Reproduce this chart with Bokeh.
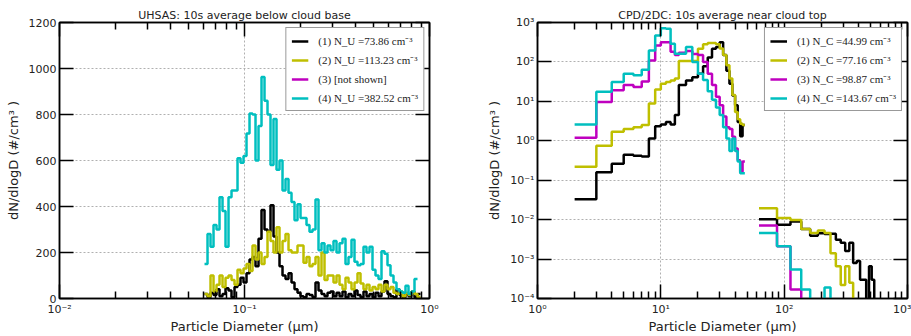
import numpy as np
from bokeh.plotting import figure
from bokeh.models import (FixedTicker, SingleIntervalTicker, CustomJSTickFormatter, LogAxis,
                          LinearAxis, Legend, LegendItem, Range1d)
from bokeh.layouts import row
from bokeh.embed import file_html
from bokeh.resources import INLINE

# ---------------- data: UHSAS (left panel) ----------------
uhsas_lo, uhsas_hi, uhsas_nbins = 0.0608, 0.894, 72
uhsas_edges = np.geomspace(uhsas_lo, uhsas_hi, uhsas_nbins + 1)

uhsas_1 = [20, 5, 25, 15, 40, 10, 20, 45, 35, 5, 50, 60, 90, 70, 110, 170, 180, 140, 260, 385,
           300, 290, 405, 270, 200, 140, 100, 85, 110, 70, 40, 25, 10, 5, 20, 15, 5, 70, 35, 20,
           10, 25, 30, 10, 25, 10, 30, 5, 20, 10, 35, 15, 5, 30, 10, 20, 5, 25, 10, 30,
           75, 20, 10, 5, 40, 15, 5, 20, 10, 30, 5, 20]
uhsas_2 = [20, 10, 100, 30, 60, 100, 50, 90, 100, 80, 60, 125, 110, 130, 150, 120, 230, 170, 200, 150,
           180, 290, 250, 200, 310, 200, 250, 280, 210, 200, 200, 230, 230, 155, 180, 140, 150, 180, 100, 200,
           80, 100, 100, 70, 100, 60, 40, 90, 70, 40, 70, 110, 65, 40, 60, 35, 50, 40, 60, 30,
           60, 40, 50, 25, 20, 30, 10, 25, 15, 30, 20, 5]
uhsas_4 = [150, 280, 225, 320, 300, 440, 380, 225, 440, 470, 470, 610, 590, 620, 717, 804, 800, 600, 750, 963,
           860, 800, 580, 780, 560, 600, 470, 520, 460, 420, 340, 410, 350, 350, 320, 290, 300, 430, 210, 240,
           200, 230, 210, 250, 200, 240, 260, 150, 180, 255, 160, 145, 150, 225, 200, 225, 125, 100, 85, 205,
           195, 145, 100, 70, 40, 30, 25, 55, 20, 30, 85]

uhsas_labels = ["(1) N_U =73.86 cm\u207b\u00b3", "(2) N_U =113.23 cm\u207b\u00b3",
                "(3) [not shown]", "(4) N_U =382.52 cm\u207b\u00b3"]

# ---------------- data: CDP / 2DC (right panel) ----------------
cdp_edges = [2, 3, 4, 5, 6, 7, 8, 9, 10, 11, 12, 13, 14, 16, 18, 20, 22, 24, 26, 28, 30,
             32, 34, 36, 38, 40, 42, 44, 46, 48]
cdp_1 = [0.033, 0.16, 0.26, 0.44, 0.42, 0.40, 1.15, 2.35, 2.6, 3.0, 2.6, 4.5, 26, 34, 41, 50, 78, 130,
         215, 240, 317, 150, 60, 28, 14, 8, 3, 1.3, 2.5]
cdp_2 = [0.22, 0.75, 1.7, 2.0, 2.2, 2.5, 8.8, 20, 28, 31, 34, 38, 105, 105, 105, 215, 280, 300,
         300, 280, 220, 150, 82, 38, 14.5, 5.4, 3.5, 2.7, 2.5]
cdp_3 = [1.2, 9.7, 19, 26, 23, 32, 108, 260, 316, 316, 180, 150, 170, 190, 160, 150, 100, 50,
         26, 13, 8, 4.1, 2.2, 2.0, 1.26, 0.64, 0.32, 0.165, 0.3]
cdp_4 = [2.6, 17.5, 31, 50, 46, 63, 196, 470, 720, 690, 290, 162, 162, 240, 100, 50, 35, 18,
         11, 7, 4.5, 2.2, 1.15, 0.55, 1.15, 0.55, 0.3, 0.15, 0.15]

twodc_edges = [62.5, 87.5, 112.5, 137.5, 162.5, 187.5, 212.5, 237.5, 262.5, 287.5, 312.5,
               337.5, 362.5, 387.5, 412.5, 437.5, 462.5, 487.5, 512.5, 537.5, 562.5]
twodc_1 = [0.0103, 0.0074, 0.009, 0.0058, 0.0039, 0.0045, 0.0043, 0.0044, 0.0031, 0.0026,
           0.0016, 0.0026, 0.0008, 0.0009, 0.0003, 0.0003, 1e-7, 0.00066, 0.0003, 1e-7]
twodc_2 = [0.0195, 0.011, 0.0098, 0.0058, 0.0046, 0.0053, 0.0046, 0.0014, 0.00066, 0.00022,
           0.00066, 0.00025, 1e-7]
twodc_3 = [0.0071, 0.0021, 0.00017, 1e-7]
twodc_4 = [0.0046, 0.0021, 0.00054, 0.00017, 1e-7, 1e-7, 0.00019, 1e-7]

cdp_labels = ["(1) N_C =44.99 cm\u207b\u00b3", "(2) N_C =77.16 cm\u207b\u00b3",
              "(3) N_C =98.87 cm\u207b\u00b3", "(4) N_C =143.67 cm\u207b\u00b3"]

colors = ["#000000", "#bfbf00", "#bf00bf", "#00bfbf"]

FONT = "DejaVu Sans"
H = 336
FRAME_TOP = 22
FRAME_BOTTOM = 37

sup_js = """
const sup = {"-":"\\u207b","0":"\\u2070","1":"\\u00b9","2":"\\u00b2","3":"\\u00b3","4":"\\u2074",
             "5":"\\u2075","6":"\\u2076","7":"\\u2077","8":"\\u2078","9":"\\u2079"};
const e = Math.round(Math.log10(tick));
return "10" + String(e).split("").map(c => sup[c]).join("");
"""


def step_xy(edges, vals):
    xs, ys = [], []
    for i, v in enumerate(vals):
        xs.extend([edges[i], edges[i + 1]])
        ys.extend([v, v])
    return xs, ys


def style_axis(ax, labels=True):
    ax.axis_line_width = 1.5
    ax.axis_line_color = "black"
    ax.major_tick_in = 14
    ax.major_tick_out = 0
    ax.minor_tick_in = 7
    ax.minor_tick_out = 0
    ax.major_tick_line_width = 1.5
    ax.minor_tick_line_width = 1.5
    ax.major_tick_line_color = "black"
    ax.minor_tick_line_color = "black"
    ax.major_label_text_font = FONT
    ax.major_label_text_font_size = "11px"
    ax.major_label_text_color = "#222222"
    ax.axis_label_text_font = FONT
    ax.axis_label_text_font_size = "13px"
    ax.axis_label_text_font_style = "normal"
    ax.axis_label_text_color = "#222222"
    if not labels:
        ax.major_label_text_font_size = "0px"
        ax.major_label_standoff = 0
        ax.formatter = CustomJSTickFormatter(code="return ''")


def make_fig(width, left, right, xr, yr, ylog, title):
    p = figure(width=width, height=H, x_axis_type="log",
               y_axis_type="log" if ylog else "linear",
               x_range=xr, y_range=yr, output_backend="svg", toolbar_location=None,
               min_border_left=left, min_border_right=right,
               min_border_top=FRAME_TOP, min_border_bottom=FRAME_BOTTOM,
               background_fill_color="white", border_fill_color="white")
    p.title.text = title
    p.title.align = "center"
    p.title.text_font = FONT
    p.title.text_font_size = "11px"
    p.title.text_font_style = "normal"
    p.title.text_color = "#222222"
    p.title.standoff = 1
    p.outline_line_color = "black"
    p.outline_line_width = 1.5
    p.grid.grid_line_color = "#b0b0b0"
    p.grid.grid_line_dash = "2 2"
    p.grid.grid_line_width = 1
    return p


# ---------------- left panel ----------------
x_major_l = [0.01, 0.1, 1.0]
x_minor_l = [m * d for d in (0.01, 0.1) for m in range(2, 10)]
p1 = make_fig(469, 59, 40, Range1d(0.01, 1.0), Range1d(0, 1200), False,
              "UHSAS: 10s average below cloud base")
xt1 = FixedTicker(ticks=x_major_l, minor_ticks=x_minor_l)
yt1 = SingleIntervalTicker(interval=200, num_minor_ticks=0)
p1.xaxis.ticker = xt1
p1.xaxis.formatter = CustomJSTickFormatter(code=sup_js)
p1.yaxis.ticker = yt1
for ax in p1.xaxis + p1.yaxis:
    style_axis(ax)
p1.xaxis.major_label_standoff = 4
p1.xaxis.axis_label_standoff = 0
p1.yaxis.major_label_standoff = 3
p1.yaxis.axis_label_standoff = 5
p1.xaxis.axis_label = "Particle Diameter (\u03bcm)"
p1.yaxis.axis_label = "dN/dlogD (#/cm\u00b3 )"
p1.xgrid.ticker = FixedTicker(ticks=x_major_l)
p1.ygrid.ticker = yt1
top1 = LogAxis(ticker=xt1)
style_axis(top1, labels=False)
p1.add_layout(top1, "above")
right1 = LinearAxis(ticker=yt1)
style_axis(right1, labels=False)
p1.add_layout(right1, "right")

r_l = []
for vals, c in zip([uhsas_1, uhsas_2, None, uhsas_4], colors):
    if vals is None:
        # series (3) is not shown: a swatch-only renderer kept outside the visible range
        r = p1.line(x=[0.001, 0.002], y=[-500, -500], color=c, line_width=2.5)
    else:
        xs, ys = step_xy(uhsas_edges, vals)
        r = p1.line(xs, ys, color=c, line_width=2.5)
    r_l.append(r)

leg1 = Legend(items=[LegendItem(label=lab, renderers=[r]) for lab, r in zip(uhsas_labels, r_l)],
              location="top_right")
p1.add_layout(leg1)

# ---------------- right panel ----------------
x_major_r = [1, 10, 100, 1000]
x_minor_r = [m * d for d in (1, 10, 100) for m in range(2, 10)]
y_major_r = [1e-4, 1e-3, 1e-2, 1e-1, 1, 10, 100, 1000]
p2 = make_fig(442, 68, 4, Range1d(1, 1000), Range1d(1e-4, 1e3), True,
              "CPD/2DC: 10s average near cloud top")
xt2 = FixedTicker(ticks=x_major_r, minor_ticks=x_minor_r)
yt2 = FixedTicker(ticks=y_major_r, minor_ticks=[])
p2.xaxis.ticker = xt2
p2.yaxis.ticker = yt2
p2.xaxis.formatter = CustomJSTickFormatter(code=sup_js)
p2.yaxis.formatter = CustomJSTickFormatter(code=sup_js)
for ax in p2.xaxis + p2.yaxis:
    style_axis(ax)
p2.xaxis.major_label_standoff = 4
p2.xaxis.axis_label_standoff = 0
p2.yaxis.major_label_standoff = 3
p2.yaxis.axis_label_standoff = 5
p2.xaxis.axis_label = "Particle Diameter (\u03bcm)"
p2.yaxis.axis_label = "dN/dlogD (#/cm\u00b3 )"
p2.xgrid.ticker = FixedTicker(ticks=x_major_r)
p2.ygrid.ticker = FixedTicker(ticks=y_major_r)
top2 = LogAxis(ticker=xt2)
style_axis(top2, labels=False)
p2.add_layout(top2, "above")
right2 = LogAxis(ticker=yt2)
style_axis(right2, labels=False)
p2.add_layout(right2, "right")

r_r = []
for cv, tv, c in zip([cdp_1, cdp_2, cdp_3, cdp_4], [twodc_1, twodc_2, twodc_3, twodc_4], colors):
    xs, ys = step_xy(cdp_edges, cv)
    r = p2.line(xs, ys, color=c, line_width=2.5)
    xs2, ys2 = step_xy(twodc_edges, tv)
    p2.line(xs2, ys2, color=c, line_width=2.5)
    r_r.append(r)

leg2 = Legend(items=[LegendItem(label=lab, renderers=[r]) for lab, r in zip(cdp_labels, r_r)],
              location="top_right")
p2.add_layout(leg2)

for leg in (leg1, leg2):
    leg.label_text_font = "Liberation Serif"
    leg.label_text_font_size = "11px"
    leg.label_text_color = "#222222"
    leg.glyph_width = 17
    leg.glyph_height = 12
    leg.label_standoff = 10
    leg.label_height = 15
    leg.spacing = 4
    leg.padding = 5
    leg.margin = 5
    leg.border_line_color = "#333333"
    leg.border_line_width = 1.2
    leg.background_fill_color = "white"
    leg.background_fill_alpha = 1.0

layout = row(p1, p2)
open("out.html", "w").write(file_html(layout, INLINE))
